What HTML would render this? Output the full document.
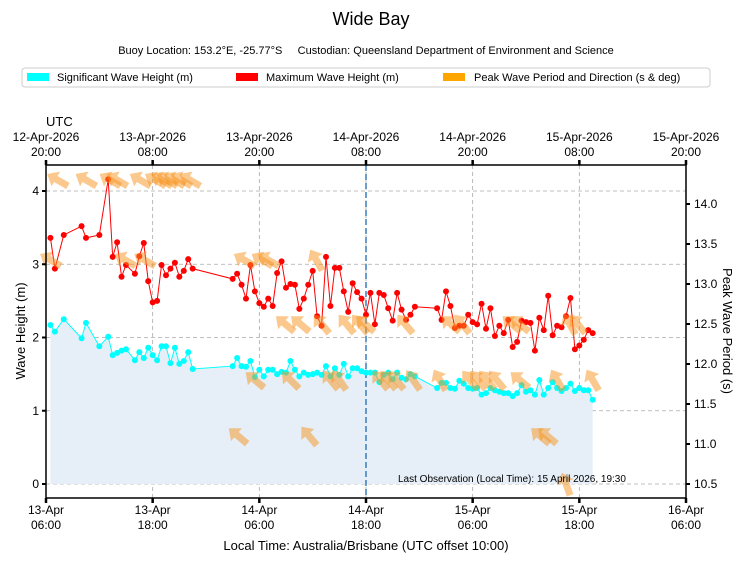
<!DOCTYPE html>
<html><head><meta charset="utf-8"><style>
body{margin:0;background:#fff;font-family:"Liberation Sans",sans-serif}
svg text{font-family:"Liberation Sans",sans-serif;fill:#000}
</style></head><body>
<svg id="chart" width="743" height="562" viewBox="0 0 743 562">
<text x="371" y="25" font-size="18" text-anchor="middle">Wide Bay</text>
<text x="366" y="54" font-size="11" text-anchor="middle">Buoy Location: 153.2°E, -25.77°S &#160;&#160;&#160; Custodian: Queensland Department of Environment and Science</text>
<g>
<rect x="22" y="68" width="688" height="19" rx="3" fill="#fff" stroke="#ccc"/>
<g><rect x="27" y="73" width="22" height="8" fill="cyan"/><text x="57" y="81" font-size="11">Significant Wave Height (m)</text></g>
<g><rect x="236" y="73" width="22" height="8" fill="red"/><text x="266" y="81" font-size="11">Maximum Wave Height (m)</text></g>
<g><rect x="443" y="73" width="22" height="8" fill="orange"/><text x="474" y="81" font-size="11">Peak Wave Period and Direction (s &amp; deg)</text></g>
</g>
<text x="46" y="126" font-size="13">UTC</text>
<g id="plot"></g>
<text x="366" y="550" font-size="13" text-anchor="middle">Local Time: Australia/Brisbane (UTC offset 10:00)</text>
<text transform="translate(25,331) rotate(-90)" font-size="13" text-anchor="middle">Wave Height (m)</text>
<text transform="translate(723,331) rotate(90)" font-size="13" text-anchor="middle">Peak Wave Period (s)</text>
<text x="398" y="482" font-size="10">Last Observation (Local Time): 15 April 2026, 19:30</text>
</svg>
<script>
const times=[0.5,1,2,4,4.5,6,7,7.5,8,8.5,9,10,10.5,11,11.5,12,12.5,13,13.5,14,14.5,15,15.5,16,16.5,
21,21.5,22,22.5,23,23.5,24,24.5,25,25.5,26,26.5,27,27.5,28,28.5,29,29.5,30,30.5,31,31.5,32,32.5,33,33.5,34,34.5,35,
35.5,36,36.5,37,37.5,38,38.5,39,39.5,40,40.5,41,41.5,
44,44.5,45,45.5,46,46.5,47,47.5,48,48.5,49,49.5,50,50.5,51,51.5,52,52.5,53,53.5,54,54.5,55,55.5,56,56.5,57,57.5,58,58.5,59,59.5,60,60.5,61,61.5];
const hs=[2.17,2.08,2.25,1.99,2.20,1.88,2.01,1.76,1.79,1.82,1.84,1.69,1.80,1.72,1.86,1.76,1.69,1.88,1.88,1.65,1.86,1.64,1.68,1.80,1.57,
1.61,1.72,1.61,1.60,1.68,1.46,1.56,1.47,1.56,1.56,1.50,1.53,1.52,1.68,1.56,1.47,1.52,1.49,1.50,1.52,1.49,1.61,1.47,1.58,1.49,1.64,1.47,1.58,1.58,
1.54,1.52,1.52,1.52,1.39,1.49,1.52,1.43,1.52,1.45,1.43,1.50,1.47,
1.31,1.38,1.38,1.31,1.30,1.41,1.37,1.31,1.30,1.31,1.22,1.24,1.31,1.28,1.26,1.24,1.24,1.20,1.24,1.35,1.26,1.28,1.22,1.42,1.22,1.31,1.39,1.31,1.27,1.31,1.37,1.27,1.31,1.28,1.28,1.15];
const hmax=[3.36,2.94,3.40,3.52,3.36,3.40,4.16,3.10,3.30,2.83,2.99,2.87,3.11,3.29,2.77,2.48,2.50,2.99,2.85,2.94,3.02,2.83,2.91,3.07,2.94,
2.80,2.87,2.72,2.53,2.99,2.63,2.47,2.42,2.53,2.43,2.88,3.04,2.68,2.73,2.72,2.39,2.53,2.72,2.91,2.29,2.16,3.10,2.43,2.95,2.95,2.63,2.35,2.74,2.62,
2.53,2.31,2.61,2.18,2.61,2.58,2.40,2.23,2.61,2.38,2.24,2.31,2.42,
2.40,2.24,2.63,2.43,2.13,2.16,2.16,2.31,2.21,2.18,2.46,2.12,2.40,2.02,2.16,2.06,2.24,1.87,1.94,2.23,2.21,2.20,1.82,2.27,2.10,2.57,2.03,2.16,2.14,2.29,2.54,1.84,1.89,1.97,2.10,2.06];
const arrowTimes=[1.3,4.5,7.2,8,10.6,12.3,13,13.6,14.4,15.2,16.2,0.5,8.9,11.1,22.3,24.3,25,30.4,26.9,28.6,31,33.8,35.3,35.9,40.4,45.5,46.8,52.4,53.3,58.9,59.8,23.5,27.5,32,33,37.6,38.5,39.4,41.3,44.3,47.7,48.6,49.6,50.7,53.3,57.5,61.5,21.6,29.6,55.6,56.4,58.5];
const arrowPeriods=[14.3,14.3,14.3,14.3,14.3,14.3,14.3,14.3,14.3,14.3,14.3,13.3,13.3,13.3,13.3,13.3,13.3,13.3,12.5,12.5,12.5,12.5,12.5,12.5,12.5,12.5,12.5,12.5,12.5,12.5,12.5,11.8,11.8,11.8,11.8,11.8,11.8,11.8,11.8,11.8,11.8,11.8,11.8,11.8,11.8,11.8,11.8,11.1,11.1,11.1,11.1,10.5];
const arrowDirs=[300,300,300,300,300,300,300,300,300,300,300,300,300,300,300,300,300,330,310,310,320,320,320,310,320,310,320,310,310,330,320,310,315,320,325,320,320,320,325,330,320,320,320,320,310,330,330,310,320,310,310,340];
const yLeftTicks=[0,1,2,3,4];
const yRightTicks=[10.5,11.0,11.5,12.0,12.5,13.0,13.5,14.0];
const xTickHours=[0,12,24,36,48,60,72];
const bottomTop=["13-Apr","13-Apr","14-Apr","14-Apr","15-Apr","15-Apr","16-Apr"];
const bottomBot=["06:00","18:00","06:00","18:00","06:00","18:00","06:00"];
const topTop=["12-Apr-2026","13-Apr-2026","13-Apr-2026","14-Apr-2026","14-Apr-2026","15-Apr-2026","15-Apr-2026"];
const topBot=["20:00","08:00","20:00","08:00","20:00","08:00","20:00"];

const NS="http://www.w3.org/2000/svg";
const L=46,R=686,T=165,B=498;
const X=t=>L+(R-L)*t/72;
const Y=h=>484-h*73.25;
const Y2=p=>484-(p-10.5)*80;
const g=document.getElementById('plot');
function mk(tag,attrs,parent){const e=document.createElementNS(NS,tag);for(const k in attrs)e.setAttribute(k,attrs[k]);(parent||g).appendChild(e);return e;}

// grid
yLeftTicks.forEach(v=>{const e=mk('line',{x1:L,x2:R,y1:Y(v),y2:Y(v),stroke:'#aaa','stroke-dasharray':'4,3','stroke-width':0.8});

});
xTickHours.forEach(h=>{const e=mk('line',{x1:X(h),x2:X(h),y1:T,y2:B,stroke:'#aaa','stroke-dasharray':'4,3','stroke-width':0.8});

});

// fill under hs
let segs=[[0,25],[25,67],[67,103]];
let fillPts=[X(times[0])+','+Y(0)];
times.forEach((t,i)=>fillPts.push(X(t)+','+Y(hs[i])));
fillPts.push(X(times[times.length-1])+','+Y(0));
const fa=mk('polygon',{points:fillPts.join(' '),fill:'#e6eff7'});



// now line
const nl=mk('line',{x1:X(36),x2:X(36),y1:T,y2:B,stroke:'#3a7fb8','stroke-dasharray':'6,3','stroke-width':1.5});



function series(vals,color,name){
  const pts=times.map((t,i)=>X(t)+','+Y(vals[i])).join(' ');
  const pl=mk('polyline',{points:pts,fill:'none',stroke:color,'stroke-width':1});
  
  
  times.forEach((t,i)=>{const c=mk('circle',{cx:X(t),cy:Y(vals[i]),r:3,fill:color});
  
  });
}
series(hs,'cyan','hs');
series(hmax,'red','hmax');

// arrows
arrowTimes.forEach((t,i)=>{
  const cx=X(t),cy=Y2(arrowPeriods[i]);
  const a=(arrowDirs[i]-90)*Math.PI/180; // compass -> screen
  const grp=mk('g',{transform:`translate(${cx},${cy}) rotate(${arrowDirs[i]-90})`,opacity:0.5});
  
  
  mk('polygon',{points:'-12,-3.5 2,-3.5 2,-8.5 12,0 2,8.5 2,3.5 -12,3.5',fill:'#f7931e'},grp);
});

// frame
const fr=mk('rect',{x:L,y:T,width:R-L,height:B-T,fill:'none',stroke:'#000','stroke-width':1.5});



yLeftTicks.forEach(v=>{
  mk('line',{x1:L-4,x2:L,y1:Y(v),y2:Y(v),stroke:'#000','stroke-width':2});
  const t=mk('text',{x:L-7,y:Y(v)+4,'font-size':12,'text-anchor':'end'});t.textContent=v;
  
  
});
yRightTicks.forEach(v=>{
  mk('line',{x1:R,x2:R+4,y1:Y2(v),y2:Y2(v),stroke:'#000','stroke-width':2});
  const t=mk('text',{x:R+8,y:Y2(v)+4,'font-size':12});t.textContent=v.toFixed(1);
  
  
});
xTickHours.forEach((h,i)=>{
  const x=X(h);
  mk('line',{x1:x,x2:x,y1:B,y2:B+5,stroke:'#000','stroke-width':2.5});
  mk('line',{x1:x,x2:x,y1:T-5,y2:T,stroke:'#000','stroke-width':2.5});
  [[bottomTop[i],514],[bottomBot[i],529],[topTop[i],141],[topBot[i],156]].forEach(([s,y])=>{
    const t=mk('text',{x:x,y:y,'font-size':12,'text-anchor':'middle'});t.textContent=s;
    
    
  });
});
</script>
</body></html>
